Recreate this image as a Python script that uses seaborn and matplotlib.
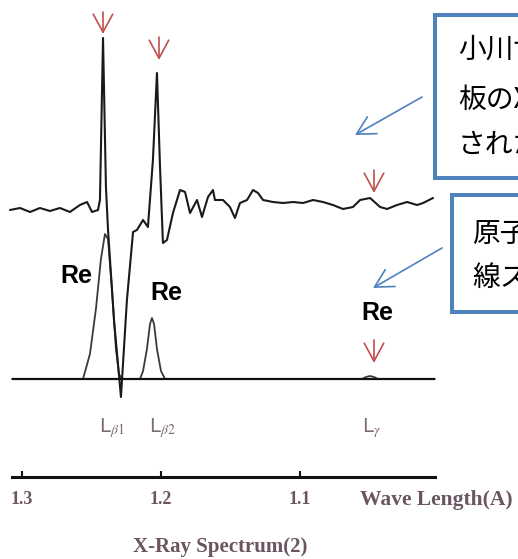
import matplotlib
matplotlib.use("Agg")
import matplotlib.pyplot as plt
import pandas as pd
import seaborn as sns
from matplotlib.patches import Rectangle

sns.set_style("white")
plt.rcParams["font.family"] = ["DejaVu Sans", "Noto Sans CJK JP"]
plt.rcParams["mathtext.fontset"] = "stix"

# --- data -------------------------------------------------------------
# measured sample spectrum (upper trace), wavelength in A, intensity a.u.
sample_wl = [1.3086, 1.3014, 1.2942, 1.2871, 1.2799, 1.2727, 1.2655, 1.2583,
             1.2532, 1.2496, 1.2453, 1.2439, 1.2417, 1.2396, 1.2381, 1.2338,
             1.2288, 1.2245, 1.2201, 1.2173, 1.2129, 1.2094, 1.2058, 1.2029,
             1.2007, 1.1986, 1.1957, 1.1914, 1.1863, 1.1827, 1.1791, 1.1741,
             1.1705, 1.1662, 1.1626, 1.1612, 1.1554, 1.1504, 1.1468, 1.1432,
             1.1381, 1.1338, 1.1302, 1.1266, 1.1194, 1.1122, 1.1050, 1.0978,
             1.0906, 1.0835, 1.0763, 1.0691, 1.0619, 1.0568, 1.0496, 1.0424,
             1.0374, 1.0302, 1.0230, 1.0158, 1.0115, 1.0043]
sample_int = [-2, 0, -4, 0, -3, 0, -4, 3,
              6, -4, -2, 8, 170, 21, -22, -112,
              -189, -92, -24, -22, -12, -19, 48, 135,
              41, -35, -32, -5, 18, 16, -5, 8,
              -9, 11, 18, 8, 8, 1, -10, 5,
              8, 18, 15, 8, 6, 5, 6, 5,
              8, 6, 3, -1, 1, 8, 10, 1,
              -1, 3, 6, 3, 5, 10]

# Re reference spectrum (lower trace)
ref_wl = [1.3072, 1.2561, 1.2511, 1.2468, 1.2432, 1.2403, 1.2381, 1.2353,
          1.2324, 1.2302, 1.2281, 1.2151, 1.2129, 1.2101, 1.2079, 1.2065,
          1.2050, 1.2029, 1.2000, 1.1971, 1.0554, 1.0525, 1.0496, 1.0468,
          1.0439, 1.0029]
ref_int = [0, 0, 25, 70, 120, 145, 140, 90,
           30, 5, 0, 0, 8, 30, 55, 61,
           55, 30, 8, 0, 0, 2, 3, 2,
           0, 0]

wl_ticks = [1.3, 1.2, 1.1]
line_names = [r"L$_{\beta1}$", r"L$_{\beta2}$", r"L$_{\gamma}$"]

SAMPLE_OFFSET = 171
W, H = 518, 559


def fp(px, py):
    return (px / W, 1 - py / H)


fig = plt.figure(figsize=(W / 100, H / 100), dpi=100)
ax = fig.add_axes([0, 0, 1, 1])

sample = pd.DataFrame({"wl": sample_wl,
                       "I": [v + SAMPLE_OFFSET for v in sample_int]})
ref = pd.DataFrame({"wl": ref_wl, "I": ref_int})

sns.lineplot(data=ref, x="wl", y="I", ax=ax, color="#3a3a3a", lw=1.3,
             estimator=None, sort=False)
sns.lineplot(data=sample, x="wl", y="I", ax=ax, color="#1a1a1a", lw=1.5,
             estimator=None, sort=False)
ax.hlines(0, ref_wl[0], ref_wl[-1], color="#111111", lw=1.6)

ax.set_xlim(1.3158, 0.9432)
ax.set_ylim(-180, 379)
ax.axis("off")

# wavelength axis
axw = fig.add_axes([12 / W, 82 / H, 423 / W, 0.001])
axw.patch.set_alpha(0)
axw.set_xlim(ref_wl[0], ref_wl[-1])
axw.set_yticks([])
for s in ["top", "left", "right"]:
    axw.spines[s].set_visible(False)
axw.spines["bottom"].set_linewidth(2.2)
axw.spines["bottom"].set_color("#111111")
axw.set_xticks(wl_ticks)
axw.set_xticklabels([f"{t:.1f}" for t in wl_ticks])
axw.tick_params(axis="x", bottom=True, direction="in", length=4, width=1.5,
                pad=10, labelsize=13, labelcolor="#6a5560", color="#111111")
for lab in axw.get_xticklabels():
    lab.set_fontfamily("Liberation Serif")
    lab.set_fontweight("bold")

serif = dict(family="Liberation Serif", weight="bold", color="#6a5560")
fig.text(*fp(360, 500), "Wave Length(A)", ha="left", va="center",
         fontsize=15.5, **serif)
fig.text(*fp(220, 547), "X-Ray Spectrum(2)", ha="center", va="center",
         fontsize=15, **serif)

for name, (px, py) in zip(line_names, [(112, 428), (162, 428), (372, 428)]):
    fig.text(*fp(px, py), name, ha="center", va="center", fontsize=14,
             color="#7d6a6a")

for px, py in [(76, 276), (166, 293), (377, 313)]:
    fig.text(*fp(px, py), "Re", ha="center", va="center", fontsize=18,
             fontweight="bold", family="Liberation Sans", color="black")

# red markers over the peaks
red = "#c0504d"
for px, y0, y1 in [(103, 12, 34), (159, 37, 60), (374, 170, 193), (374, 340, 363)]:
    ax.annotate("", xy=fp(px, y1), xytext=fp(px, y0),
                xycoords="figure fraction", textcoords="figure fraction",
                arrowprops=dict(arrowstyle="->,head_length=1.3,head_width=0.7",
                                color=red, lw=1.2, shrinkA=0, shrinkB=0,
                                mutation_scale=10))

# callout boxes (cut off at the right edge, as in the source slide)
blue = "#4f81bd"
for x0, y0, y1 in [(435, 15, 178), (452, 195, 312)]:
    fig.add_artist(Rectangle(fp(x0, y1), (W + 40 - x0) / W, (y1 - y0) / H,
                             transform=fig.transFigure, facecolor="white",
                             edgecolor=blue, lw=2.9))

jp = dict(fontsize=20, family=["Noto Sans CJK JP"], ha="left", va="center",
          color="black")
fig.text(*fp(458, 50), "小川博士が", **jp)
fig.text(*fp(458, 100), "板のX線スペクトル", **jp)
fig.text(*fp(458, 145), "されたもの", **jp)
fig.text(*fp(472, 234), "原子番号75の", **jp)
fig.text(*fp(472, 278), "線スペクトル", **jp)

for tail, tip in [((422, 97), (355, 135)), ((442, 248), (373, 288))]:
    ax.annotate("", xy=fp(*tip), xytext=fp(*tail),
                xycoords="figure fraction", textcoords="figure fraction",
                arrowprops=dict(arrowstyle="->,head_length=1.3,head_width=0.7",
                                color=blue, lw=1.2, shrinkA=0, shrinkB=0,
                                mutation_scale=10))

fig.savefig("out.png", dpi=100)
